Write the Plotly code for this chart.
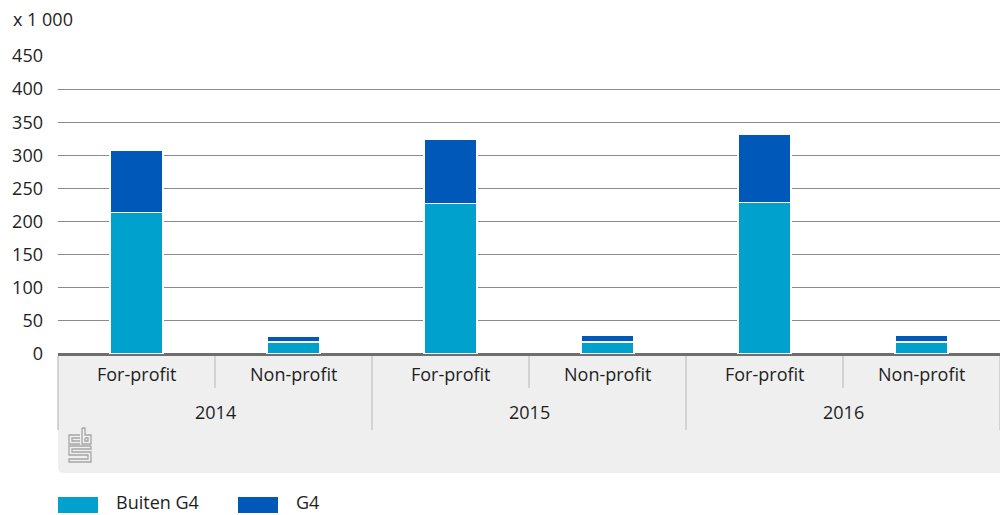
import plotly.graph_objects as go

# Categories
years = ["2014", "2015", "2016"]
sectors = ["For-profit", "Non-profit"]

# Values (x 1 000), ordered year by year, sector within year
buiten_g4 = [214, 18, 227, 18, 229, 18]
g4 = [93, 9, 97, 11, 103, 11]

series_names = ["Buiten G4", "G4"]
series_colors = ["#00a1cd", "#0058b8"]

y_ticks = [0, 50, 100, 150, 200, 250, 300, 350, 400, 450]

# Page geometry (pixels)
W, H = 1000, 515
ML, MR, MT, MB = 58, 0, 56, 161
PW = W - ML - MR
PH = H - MT - MB
Y0 = H - MB  # pixel row of the plot bottom


def px_x(px):
    return (px - ML) / PW


def px_y(py):
    return (Y0 - py) / PH


FONT = "Open Sans"
TXT = "#1e1e1e"

n_cat = len(years) * len(sectors)
xpos = list(range(n_cat))

fig = go.Figure()
for name, vals, col in zip(series_names, [buiten_g4, g4], series_colors):
    fig.add_trace(go.Bar(
        x=xpos, y=vals, name=name,
        marker=dict(color=col, line=dict(color="white", width=1.5)),
        width=0.34, showlegend=False,
    ))

shapes = []
annotations = []

# Grey band below the axis holding the category labels
bx0, bx1, by0, by1, r = 58, 1000, 355, 473, 6
shapes.append(dict(
    type="path", xref="paper", yref="paper", layer="below",
    path=(f"M {px_x(bx0)} {px_y(by0)} L {px_x(bx1)} {px_y(by0)} "
          f"L {px_x(bx1)} {px_y(by1)} L {px_x(bx0 + r)} {px_y(by1)} "
          f"Q {px_x(bx0)} {px_y(by1)} {px_x(bx0)} {px_y(by1 - r)} Z"),
    fillcolor="#efefef", line=dict(width=0),
))

# Dividers: short ones between sectors, long ones between years
div_col = "#c8c8c8"
for k in range(n_cat + 1):
    xb = k / n_cat
    long = (k % len(sectors) == 0)
    ybot = 430 if long else 388
    shapes.append(dict(
        type="line", xref="paper", yref="paper",
        x0=xb, x1=xb, y0=px_y(356), y1=px_y(ybot),
        line=dict(color=div_col, width=1.5),
    ))

# Sector labels and year labels
for i in range(n_cat):
    annotations.append(dict(
        x=(i + 0.5) / n_cat, y=px_y(374), xref="paper", yref="paper",
        text=sectors[i % len(sectors)], showarrow=False,
        xanchor="center", yanchor="middle",
        font=dict(family=FONT, size=18, color=TXT),
    ))
for g, yr in enumerate(years):
    annotations.append(dict(
        x=(g * len(sectors) + len(sectors) / 2) / n_cat, y=px_y(412),
        xref="paper", yref="paper", text=yr, showarrow=False,
        xanchor="center", yanchor="middle",
        font=dict(family=FONT, size=18, color=TXT),
    ))

# Unit label above the value axis
annotations.append(dict(
    x=px_x(11), y=px_y(19), xref="paper", yref="paper",
    text="x 1 000", showarrow=False, xanchor="left", yanchor="middle",
    font=dict(family=FONT, size=18, color=TXT),
))

# Small CBS mark in the grey band (outline drawing)
ox, oy = 69, 428
logo_paths = [
    [(11, 7), (0, 7), (0, 16), (11, 16)],
    [(11, 10), (3, 10), (3, 13), (11, 13)],
    [(13, 0), (16, 0), (16, 7), (22, 7), (22, 16), (13, 16), (13, 0)],
    [(16, 10), (19, 10), (19, 13), (16, 13), (16, 10)],
    [(22, 18), (0, 18), (0, 27), (19, 27), (19, 31), (0, 31), (0, 34),
     (22, 34), (22, 24), (3, 24), (3, 21), (22, 21), (22, 18)],
]
for pts in logo_paths:
    d = " ".join(
        ("M" if j == 0 else "L") + f" {px_x(ox + a)} {px_y(oy + b)}"
        for j, (a, b) in enumerate(pts)
    )
    shapes.append(dict(type="path", xref="paper", yref="paper", path=d,
                       line=dict(color="#a6a6a6", width=1.3)))

# Legend drawn as wide swatches with labels
leg_x = [58, 238]
for lx, name, col in zip(leg_x, series_names, series_colors):
    shapes.append(dict(
        type="rect", xref="paper", yref="paper",
        x0=px_x(lx), x1=px_x(lx + 40), y0=px_y(497), y1=px_y(513),
        fillcolor=col, line=dict(width=0),
    ))
    annotations.append(dict(
        x=px_x(lx + 56), y=px_y(502), xref="paper", yref="paper",
        text=name, showarrow=False, xanchor="left", yanchor="middle",
        font=dict(family=FONT, size=18, color=TXT),
    ))

fig.update_layout(
    width=W, height=H,
    margin=dict(l=ML, r=MR, t=MT, b=MB, pad=0),
    barmode="stack",
    plot_bgcolor="white", paper_bgcolor="white",
    font=dict(family=FONT, size=18, color=TXT),
    shapes=shapes, annotations=annotations,
    xaxis=dict(
        range=[-0.5, n_cat - 0.5], showticklabels=False, showgrid=False,
        zeroline=False, showline=False, ticks="", fixedrange=True,
    ),
    yaxis=dict(
        range=[0, 450], tickvals=y_ticks, ticks="",
        showgrid=True, gridcolor="#8a8a8a", gridwidth=1,
        zeroline=True, zerolinecolor="#6e6e6e", zerolinewidth=3,
        showline=False, ticklabelstandoff=14,
        tickfont=dict(family=FONT, size=18, color=TXT),
        fixedrange=True,
    ),
)

fig.write_html("out.html")
